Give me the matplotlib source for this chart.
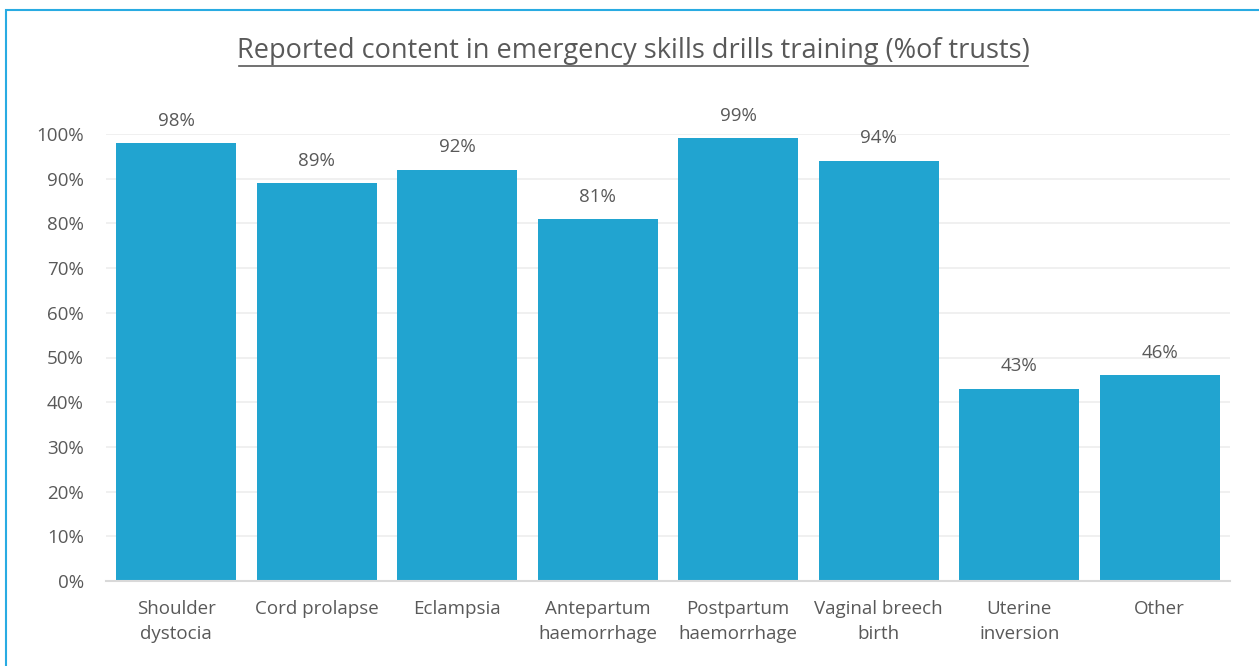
import matplotlib.pyplot as plt
import matplotlib.ticker as ticker
from matplotlib.patches import Rectangle

plt.rcParams['font.family'] = ['Open Sans', 'DejaVu Sans']

categories = ["Shoulder\ndystocia", "Cord prolapse", "Eclampsia", "Antepartum\nhaemorrhage",
              "Postpartum\nhaemorrhage", "Vaginal breech\nbirth", "Uterine\ninversion", "Other"]
percent = [98, 89, 92, 81, 99, 94, 43, 46]

text_col = '#595959'
bar_col = '#21A4D0'

fig = plt.figure(figsize=(12.59, 6.66), dpi=100)
ax = fig.add_axes([106 / 1259, 1 - 581 / 666, (1230 - 106) / 1259, (581 - 134) / 666])

x = range(len(categories))
bars = ax.bar(x, percent, width=0.855, color=bar_col, zorder=2)
for b, v in zip(bars, percent):
    ax.text(b.get_x() + b.get_width() / 2, v + 3, f"{v}%", ha='center', va='bottom',
            fontsize=13.5, color=text_col)

ax.set_xlim(-0.5, len(categories) - 0.5)
ax.set_ylim(0, 100)
ax.yaxis.set_major_locator(ticker.MultipleLocator(10))
ax.yaxis.set_major_formatter(ticker.FuncFormatter(lambda v, p: f"{v:.0f}%"))
ax.set_xticks(list(x))
ax.set_xticklabels(categories, fontsize=13.5, color=text_col, linespacing=1.5, va='top')
ax.tick_params(axis='y', labelsize=13.5, labelcolor=text_col, length=0, pad=16)
ax.tick_params(axis='x', length=0, pad=14)

ax.grid(axis='y', color='#EEEEEE', linewidth=1.2, zorder=0)
for s in ['top', 'right', 'left']:
    ax.spines[s].set_visible(False)
ax.spines['bottom'].set_color('#D9D9D9')
ax.spines['bottom'].set_linewidth(1.5)
ax.spines['bottom'].set_zorder(3)

fig.text(633 / 1259, 1 - 51 / 666, "Reported content in emergency skills drills training (%of trusts)",
         ha='center', va='center', fontsize=19.5, color=text_col)
fig.add_artist(plt.Line2D([239 / 1259, 1028 / 1259], [1 - 66 / 666, 1 - 66 / 666],
                          color=text_col, linewidth=1.2))

fig.patches.append(Rectangle((6 / 1259, -0.05), 1.1, 1 - 10 / 666 + 0.05, transform=fig.transFigure,
                             fill=False, edgecolor='#29ABE2', linewidth=1.5))

plt.savefig("out.png", dpi=100)
